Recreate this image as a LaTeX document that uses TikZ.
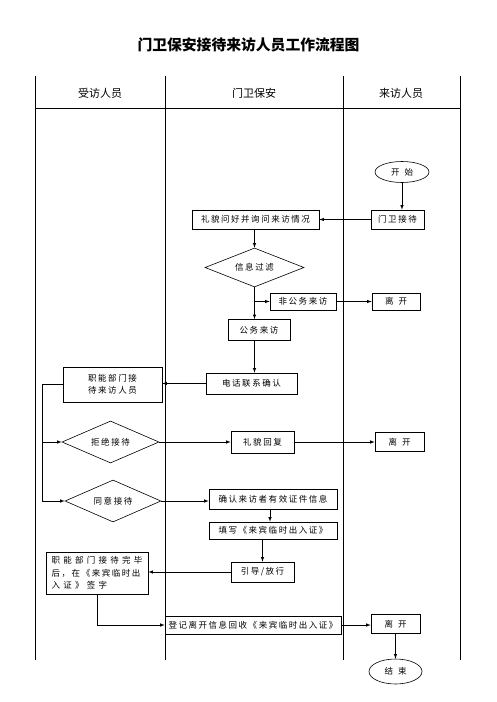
\documentclass[tikz,border=0pt]{standalone}
\usepackage{fontspec}
\setmainfont{Noto Sans CJK SC}
\newfontfamily\spaced[LetterSpace=18]{Noto Sans CJK SC}
\newfontfamily\wide[LetterSpace=38]{Noto Sans CJK SC}
\usetikzlibrary{%
  arrows,%
  calc,%
  shapes.geometric,% ellipse, diamond
  positioning%
}

\begin{document}
\begin{tikzpicture}[x=1pt,y=-1pt,>=latex,line width=0.6pt]
       \tikzset{terminal/.style={ellipse, draw, inner sep=0pt,
                font=\spaced\fontsize{8.5}{12}\selectfont}}

       \tikzset{activity/.style={rectangle, draw, inner sep=0pt,
                font=\spaced\fontsize{8.5}{12.5}\selectfont}}
        \tikzset{decision/.style={diamond, aspect=2.5, draw, inner sep=0pt,
                font=\spaced\fontsize{8.5}{12}\selectfont}}

        \tikzset{lanehead/.style={font=\fontsize{11}{13}\selectfont}}
        \tikzset{title/.style={font=\fontsize{14.8}{17}\selectfont\bfseries}}

        \useasboundingbox (0,0) rectangle (496,702);

        % title and swimlanes
        \node[title] (title) at (248.5,45) {门卫保安接待来访人员工作流程图};
        \foreach \x in {35,165,343,460}
            \draw (\x,76) -- (\x,660);
        \draw (35,108) -- (460,108);
        \node[lanehead] (lane1) at (100,93) {受访人员};
        \node[lanehead] (lane2) at (254,93) {门卫保安};
        \node[lanehead] (lane3) at (401,93) {来访人员};

        \node[terminal, minimum width=54pt, minimum height=21pt] (start) at (402,172) {开\hspace{5pt}始};
        \node[activity, minimum width=53pt, minimum height=19pt] (action1) at (397.5,219.5) {门卫接待};
        \node[activity, minimum width=127pt, minimum height=19pt] (action2) at (255.5,219.5) {礼貌问好并询问来访情况};
        \node[decision, minimum width=99pt, minimum height=39pt] (decision1) at (254.5,267.5) {信息过滤};
        \node[activity, minimum width=66pt, minimum height=17pt] (action3) at (303,301.5) {非公务来访};
        \node[activity, minimum width=48pt, minimum height=17pt] (leave1) at (396,301.5) {离\hspace{5pt}开};
        \node[activity, minimum width=62pt, minimum height=21pt] (action4) at (259,330) {公务来访};
        \node[activity, minimum width=91pt, minimum height=21pt] (action5) at (251.5,383.5) {电话联系确认};
        \node[activity, align=center, minimum width=99pt, minimum height=35pt] (action6) at (112.5,384.5) {职能部门接\\待来访人员};

        \node[decision, minimum width=97pt, minimum height=42pt] (decision2) at (110.5,442) {拒绝接待};
        \node[activity, minimum width=63pt, minimum height=22pt] (action7) at (262.5,442) {礼貌回复};
        \node[activity, minimum width=49pt, minimum height=19pt] (leave2) at (399.5,442) {离\hspace{5pt}开};

        \node[decision, minimum width=96pt, minimum height=42pt] (decision3) at (113,501) {同意接待};
        \node[activity, minimum width=128pt, minimum height=20pt] (action8) at (273,499.5) {确认来访者有效证件信息};
        \node[activity, minimum width=128pt, minimum height=17pt] (action9) at (273,530.5) {填写《来宾临时出入证》};
        \node[activity, minimum width=63pt, minimum height=20pt] (action10) at (262.5,572) {引导/放行};
        \node[activity, align=left, minimum width=102pt, minimum height=42pt] (action11) at (97,573)
            {{\wide 职能部门接待完毕}\\后，在《来宾临时出\\{\wide 入证》签字}};
        \node[activity, minimum width=176pt, minimum height=18pt] (action12) at (253,625) {登记离开信息回收《来宾临时出入证》};
        \node[activity, minimum width=49pt, minimum height=19pt] (leave3) at (395.5,624) {离\hspace{5pt}开};
        \node[terminal, minimum width=53pt, minimum height=25pt] (end) at (395.5,671.5) {结\hspace{5pt}束};

        \coordinate (fork) at ($(action6.west)+(-20pt,0pt)$);

        \draw[->] (start.south) -- (start.south |- action1.north);
        \draw[->] (action1.west) -- (action2.east);
        \draw[->] (decision1.north |- action2.south) -- (decision1.north);
        \draw[->] (decision1.south) -- (decision1.south |- action4.north);
        \draw[->] (decision1.south |- action3.west) -- (action3.west);
        \draw[->] (action3.east) -- (leave1.west);
        \draw[->] (decision1.south |- action4.south) -- (decision1.south |- action5.north);
        \draw[->] (action5.west) -- (action5.west -| action6.east);
        \draw[->] (action6.west) -- (fork) |- (decision3.west);
        \draw[->] (fork |- decision2.west) -- (decision2.west);
        \draw[->] (decision2.east) -- (action7.west);
        \draw[->] (action7.east) -- (leave2.west);
        \draw[->] (decision3.east) -- (decision3.east -| action8.west);
        \draw[->] ($(action8.south)+(-3pt,0pt)$) -- ($(action9.north)+(-3pt,0pt)$);
        \draw[->] (action10.north |- action9.south) -- (action10.north);
        \draw[->] (action10.west) -- (action10.west -| action11.east);
        \draw[->] (action11.south) |- (action12.west);
        \draw[->] (action12.east) -- (action12.east -| leave3.west);
        \draw[->] (leave3.south) -- (end.north);
\end{tikzpicture}
\end{document}
